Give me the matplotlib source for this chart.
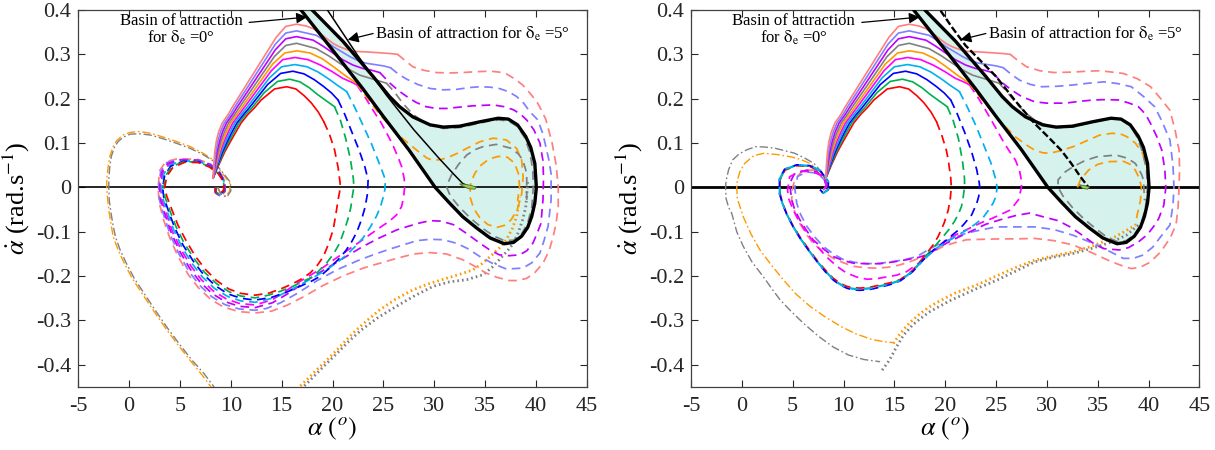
import numpy as np
import matplotlib
matplotlib.use('Agg')
import matplotlib.pyplot as plt

plt.rcParams['font.family'] = ['Liberation Serif', 'DejaVu Serif']
plt.rcParams['mathtext.fontset'] = 'stix'

# ---------------- data (alpha [deg], alpha_dot [rad/s]) ----------------
x_ticks = [-5, 0, 5, 10, 15, 20, 25, 30, 35, 40, 45]
y_ticks = [-0.4, -0.3, -0.2, -0.1, 0, 0.1, 0.2, 0.3, 0.4]
y_tick_labels = ['-0.4', '-0.3', '-0.2', '-0.1', '0', '0.1', '0.2', '0.3', '0.4']

# solid (shared by both panels)
red_solid = [(8.26,.021),(8.8,.05),(9.4,.08),(10.0,.105),(10.5,.125),(11.0,.145),(11.7,.165),(12.35,.18),(12.98,.197),(14.3,.222),(15.5,.227),(16.4,.222),(17.2,.207),(17.9,.191),(18.6,.17),(19.15,.148)]
green_solid = [(8.26,.021),(8.75,.05),(9.29,.08),(9.84,.105),(10.31,.125),(10.79,.145),(11.48,.165),(12.09,.18),(13.3,.214),(14.6,.239),(15.8,.244),(16.8,.238),(17.7,.225),(18.5,.21),(19.4,.195),(20.2,.182)]
blue_solid = [(8.26,.021),(8.69,.05),(9.18,.08),(9.68,.105),(10.12,.125),(10.59,.145),(11.27,.165),(11.83,.18),(13.62,.232),(14.9,.257),(16.1,.262),(17.2,.256),(18.2,.243),(19.1,.228),(19.9,.213),(20.55,.197)]
cyan_solid = [(8.26,.021),(8.64,.05),(9.07,.08),(9.53,.105),(9.93,.125),(10.38,.145),(11.05,.165),(11.58,.18),(13.8,.247),(15.0,.272),(16.3,.277),(17.5,.272),(18.6,.26),(19.6,.245),(20.5,.23),(21.4,.216)]
magenta_solid = [(8.26,.021),(8.59,.05),(8.96,.08),(9.37,.105),(9.75,.125),(10.18,.145),(10.83,.165),(11.32,.18),(13.98,.263),(15.1,.288),(16.3,.293),(17.6,.288),(18.8,.276),(19.9,.262),(21.0,.246),(22.0,.236),(22.4,.231)]
orange_solid = [(8.26,.021),(8.53,.05),(8.86,.08),(9.21,.105),(9.55,.125),(9.97,.145),(10.62,.165),(11.08,.18),(14.11,.278),(15.3,.303),(16.5,.308),(17.8,.303),(19.0,.29),(20.1,.272),(21.2,.253),(22.3,.236)]
gray_solid = [(8.26,.021),(8.48,.05),(8.75,.08),(9.05,.105),(9.37,.125),(9.77,.145),(10.4,.165),(10.83,.18),(14.28,.295),(15.4,.32),(16.46,.325),(18.4,.313),(19.6,.297),(20.7,.28),(21.7,.265),(22.7,.253),(24.3,.242),(25.3,.235)]
violet_solid = [(8.26,.021),(8.43,.05),(8.64,.08),(8.9,.105),(9.18,.125),(9.56,.145),(10.18,.165),(10.59,.18),(14.37,.31),(15.4,.335),(16.46,.34),(18.1,.332),(19.1,.318),(20.1,.302),(21.0,.288),(22.0,.276),(23.0,.268),(23.7,.265),(24.65,.259)]
lightblue_solid = [(8.26,.021),(8.37,.05),(8.53,.08),(8.74,.105),(8.99,.125),(9.36,.145),(9.97,.165),(10.35,.18),(14.38,.323),(15.4,.348),(16.46,.353),(18.4,.343),(19.3,.33),(20.1,.317),(20.9,.306),(21.7,.295),(22.5,.286),(23.3,.28),(25.0,.274),(25.7,.27)]
salmon_solid = [(8.26,.021),(8.32,.05),(8.42,.08),(8.58,.105),(8.8,.125),(9.15,.145),(9.75,.165),(10.12,.18),(14.45,.338),(15.4,.363),(16.46,.368),(17.4,.364),(18.1,.358),(18.8,.347),(19.4,.336),(20.1,.324),(20.7,.317),(21.4,.311),(22.0,.307),(23.7,.305),(25.6,.302),(26.4,.3)]

# dashed continuations, left panel (delta_e = 0)
red_dash_L = [(19.15,0.148),(19.7,0.12),(20.2,0.085),(20.55,0.045),(20.75,0.01),(20.7,-0.01),(20.55,-0.028),(20.3,-0.065),(20.06,-0.096),(19.6,-0.128),(19.1,-0.156),(18.5,-0.176),(17.8,-0.193),(16.9,-0.207),(16.1,-0.217),(15.0,-0.228),(13.8,-0.238),(12.4,-0.243),(11.0,-0.239),(9.8,-0.229),(8.6,-0.21),(7.5,-0.185),(6.5,-0.155),(5.6,-0.12),(4.8,-0.085),(4.2,-0.05),(3.7,-0.02),(3.5,0.0),(3.7,0.025),(4.3,0.045),(5.5,0.057),(6.8,0.056),(7.9,0.046),(8.8,0.03),(9.3,0.012),(9.3,-0.006),(8.9,-0.015),(8.5,-0.01),(8.5,0.0)]
green_dash_L = [(20.2,0.182),(20.8,0.15),(21.3,0.11),(21.75,0.065),(22.05,0.02),(22.1,0.0),(22.0,-0.013),(21.8,-0.045),(21.5,-0.073),(21.1,-0.1),(20.7,-0.126),(20.1,-0.15),(19.4,-0.171),(18.1,-0.201),(16.1,-0.223),(14.9,-0.234),(13.7,-0.243),(12.4,-0.249),(11.0,-0.245),(9.8,-0.235),(8.6,-0.217),(7.4,-0.191),(6.4,-0.161),(5.4,-0.125),(4.6,-0.088),(4.0,-0.052),(3.5,-0.02),(3.4,0.0),(3.6,0.027),(4.2,0.047),(5.4,0.058),(6.8,0.057),(7.9,0.047),(8.8,0.031),(9.3,0.012),(9.3,-0.007),(8.9,-0.016),(8.5,-0.01),(8.5,0.0)]
blue_dash_L = [(20.55,0.197),(21.2,0.165),(21.9,0.125),(22.6,0.085),(23.2,0.045),(23.5,0.017),(23.45,-0.013),(23.2,-0.045),(22.85,-0.073),(22.4,-0.1),(21.9,-0.122),(21.3,-0.143),(20.55,-0.163),(19.7,-0.182),(18.75,-0.201),(17.8,-0.213),(16.8,-0.223),(15.5,-0.236),(14.0,-0.248),(12.4,-0.254),(11.0,-0.25),(9.7,-0.24),(8.5,-0.222),(7.3,-0.196),(6.3,-0.166),(5.3,-0.13),(4.5,-0.092),(3.9,-0.055),(3.4,-0.022),(3.3,0.0),(3.5,0.028),(4.1,0.048),(5.3,0.059),(6.8,0.058),(7.9,0.048),(8.9,0.031),(9.35,0.012),(9.35,-0.007),(8.9,-0.017),(8.5,-0.01),(8.5,0.0)]
cyan_dash_L = [(21.4,0.216),(22.2,0.18),(23.0,0.14),(23.8,0.1),(24.5,0.06),(25.0,0.03),(25.2,0.017),(25.15,-0.005),(25.0,-0.021),(24.7,-0.045),(24.3,-0.066),(23.7,-0.09),(23.0,-0.114),(22.2,-0.134),(21.4,-0.152),(20.4,-0.17),(19.4,-0.186),(18.2,-0.202),(17.1,-0.216),(15.8,-0.232),(14.4,-0.248),(12.4,-0.259),(11.0,-0.256),(9.7,-0.246),(8.4,-0.228),(7.2,-0.202),(6.2,-0.172),(5.2,-0.135),(4.4,-0.097),(3.8,-0.058),(3.3,-0.024),(3.2,0.0),(3.4,0.03),(4.0,0.05),(5.2,0.06),(6.8,0.059),(7.9,0.049),(8.9,0.032),(9.35,0.012),(9.35,-0.008),(8.9,-0.017),(8.5,-0.01),(8.5,0.0)]
magenta_dash_L = [(22.4,0.231),(23.3,0.2),(24.1,0.17),(24.8,0.145),(25.5,0.115),(26.0,0.092),(26.5,0.065),(26.8,0.047),(27.05,0.02),(27.1,0.002),(27.0,-0.02),(26.8,-0.043),(26.3,-0.062),(25.6,-0.076),(24.7,-0.09),(23.7,-0.106),(22.6,-0.124),(21.4,-0.143),(20.2,-0.162),(19.1,-0.18),(17.9,-0.197),(16.8,-0.212),(15.5,-0.232),(14.1,-0.253),(12.4,-0.265),(10.9,-0.262),(9.6,-0.252),(8.3,-0.234),(7.1,-0.208),(6.1,-0.178),(5.1,-0.14),(4.3,-0.102),(3.7,-0.062),(3.2,-0.026),(3.1,0.0),(3.3,0.032),(3.9,0.052),(5.1,0.061),(6.8,0.06),(7.9,0.05),(8.9,0.032),(9.4,0.012),(9.4,-0.008),(8.95,-0.018),(8.5,-0.011),(8.5,0.0)]
violet_dash_L = [(24.65,0.259),(25.6,0.236),(26.5,0.218),(27.3,0.205),(28.2,0.192),(29.2,0.182),(30.2,0.178),(31.2,0.178),(32.5,0.181),(33.8,0.184),(35.8,0.186),(36.9,0.182),(37.8,0.175),(38.5,0.165),(39.1,0.152),(39.8,0.13),(40.4,0.1),(40.7,0.06),(40.75,0.02),(40.7,-0.028),(40.5,-0.081),(40.1,-0.105),(39.7,-0.126),(39.1,-0.143),(38.4,-0.152),(37.4,-0.154),(36.4,-0.152),(35.4,-0.14),(34.5,-0.126),(33.2,-0.104),(31.9,-0.084),(30.7,-0.076),(29.6,-0.075),(28.6,-0.08),(27.4,-0.088),(26.3,-0.096),(24.6,-0.114),(23.0,-0.133),(21.4,-0.155),(19.6,-0.18),(17.6,-0.208),(15.8,-0.237),(14.1,-0.26),(12.4,-0.271),(10.8,-0.268),(9.5,-0.258),(8.2,-0.24),(7.0,-0.214),(6.0,-0.184),(5.0,-0.145),(4.2,-0.106),(3.6,-0.066),(3.1,-0.028),(3.0,0.0),(3.2,0.034),(3.8,0.054),(5.0,0.062),(6.8,0.061),(8.0,0.051),(8.9,0.033),(9.4,0.012),(9.4,-0.008),(9.0,-0.019),(8.5,-0.012),(8.5,0.0)]
lightblue_dash_L = [(25.7,0.27),(26.5,0.255),(27.3,0.244),(28.4,0.232),(29.6,0.223),(30.9,0.22),(32.2,0.221),(33.4,0.225),(34.5,0.227),(35.5,0.226),(36.4,0.223),(37.3,0.216),(38.1,0.205),(38.8,0.19),(39.4,0.171),(40.2,0.152),(40.7,0.12),(41.0,0.09),(41.3,0.06),(41.5,0.03),(41.5,0.0),(41.5,-0.028),(41.2,-0.088),(40.8,-0.12),(40.4,-0.148),(39.6,-0.17),(38.7,-0.182),(37.1,-0.184),(35.8,-0.172),(34.5,-0.156),(33.3,-0.138),(32.2,-0.126),(30.9,-0.118),(29.6,-0.117),(28.3,-0.12),(26.9,-0.13),(25.5,-0.14),(24.0,-0.152),(22.5,-0.165),(20.5,-0.185),(18.5,-0.21),(16.6,-0.238),(14.9,-0.26),(13.5,-0.273),(12.4,-0.277),(10.8,-0.274),(9.4,-0.264),(8.1,-0.246),(6.9,-0.22),(5.9,-0.19),(4.9,-0.15),(4.1,-0.11),(3.5,-0.07),(3.0,-0.03),(2.9,0.0),(3.1,0.036),(3.7,0.056),(4.9,0.063),(6.8,0.062),(8.0,0.052),(8.9,0.034),(9.4,0.012),(9.4,-0.009),(9.0,-0.02),(8.5,-0.012),(8.5,0.0)]
salmon_dash_L = [(26.4,0.3),(27.2,0.285),(27.9,0.272),(29.0,0.264),(30.2,0.259),(31.5,0.258),(32.8,0.259),(34.2,0.261),(35.5,0.262),(36.4,0.26),(37.1,0.256),(37.9,0.245),(38.7,0.231),(39.4,0.213),(40.1,0.193),(40.6,0.172),(41.0,0.152),(41.6,0.1),(42.0,0.05),(42.2,0.0),(42.2,-0.043),(42.0,-0.08),(41.7,-0.111),(41.3,-0.143),(40.7,-0.171),(39.9,-0.192),(39.1,-0.205),(38.2,-0.21),(37.4,-0.21),(36.2,-0.203),(35.1,-0.193),(34.0,-0.178),(32.8,-0.163),(31.2,-0.15),(29.6,-0.147),(28.0,-0.15),(26.3,-0.16),(24.65,-0.171),(23.0,-0.182),(21.0,-0.2),(19.0,-0.222),(17.2,-0.246),(15.5,-0.266),(14.0,-0.279),(12.4,-0.283),(10.8,-0.28),(9.3,-0.27),(8.0,-0.252),(6.8,-0.226),(5.8,-0.196),(4.8,-0.155),(4.0,-0.114),(3.4,-0.074),(2.95,-0.034),(2.85,0.0),(3.0,0.038),(3.6,0.058),(4.8,0.065),(6.8,0.063),(8.0,0.053),(8.9,0.035),(9.45,0.013),(9.45,-0.009),(9.0,-0.021),(8.5,-0.013),(8.5,0.0)]
orange_dash_L = [(22.3,0.236),(23.0,0.215),(23.8,0.19),(24.8,0.16),(25.8,0.135),(26.9,0.11),(27.8,0.093),(28.6,0.078),(29.3,0.066),(29.9,0.061),(30.7,0.063),(31.5,0.069),(32.4,0.078),(33.2,0.088),(34.5,0.103),(35.8,0.111),(37.1,0.107),(38.1,0.088),(38.6,0.062),(38.75,0.024),(38.6,-0.015),(38.2,-0.048),(37.6,-0.072),(37.0,-0.085),(36.2,-0.09),(35.3,-0.084),(34.5,-0.069),(33.9,-0.048),(33.5,-0.02),(33.6,0.01),(34.0,0.032),(34.6,0.05),(35.4,0.064),(36.3,0.07),(37.2,0.068),(37.9,0.055),(38.3,0.03),(38.4,0.002),(38.2,-0.03)]
gray_dash_L = [(25.3,0.235),(26.1,0.215),(26.9,0.19),(27.9,0.165),(28.8,0.15),(29.6,0.142),(30.9,0.133),(32.5,0.135),(34.5,0.145),(35.5,0.15),(36.3,0.152),(37.3,0.15),(38.2,0.137),(38.9,0.112),(39.4,0.08),(39.7,0.04),(39.75,0.0),(39.6,-0.045),(39.2,-0.08),(38.6,-0.105),(37.8,-0.119),(36.9,-0.12),(35.9,-0.11),(34.8,-0.093),(33.6,-0.07),(32.5,-0.045),(31.6,-0.02),(31.2,0.002),(31.7,0.028),(32.4,0.052),(33.2,0.073),(34.0,0.085),(34.8,0.092),(36.1,0.097),(37.6,0.088),(38.3,0.075),(38.7,0.062),(39.0,0.04),(39.1,0.024),(39.1,-0.029)]
orange_dot_L = [(16.5,-0.455),(17.5,-0.433),(18.5,-0.41),(19.5,-0.388),(20.5,-0.365),(21.4,-0.343),(22.36,-0.321),(23.5,-0.298),(24.65,-0.276),(26.2,-0.252),(27.9,-0.231),(29.5,-0.217),(31.2,-0.205),(32.5,-0.196),(33.8,-0.186),(34.7,-0.172),(35.5,-0.156),(36.4,-0.137),(37.1,-0.118),(37.7,-0.092),(38.1,-0.066),(38.3,-0.04),(38.4,-0.021)]
gray_dot_L = [(16.9,-0.455),(18.0,-0.43),(19.2,-0.402),(20.4,-0.375),(21.6,-0.347),(22.85,-0.321),(24.5,-0.293),(26.3,-0.268),(28.1,-0.244),(29.9,-0.223),(31.5,-0.213),(33.2,-0.208),(34.8,-0.197),(35.7,-0.18),(36.4,-0.163),(37.2,-0.143),(37.8,-0.126),(38.3,-0.1),(38.7,-0.073),(39.0,-0.045),(39.1,-0.021),(39.2,0.017)]
orange_dashdot_L = [(8.7,0.0),(9.0,-0.015),(9.5,-0.02),(9.9,-0.008),(9.9,0.01),(9.5,0.022),(8.9,0.04),(8.26,0.062),(7.2,0.078),(6.0,0.092),(4.6,0.104),(3.3,0.114),(2.1,0.122),(1.05,0.126),(0.1,0.124),(-0.6,0.118),(-1.2,0.106),(-1.57,0.092),(-1.9,0.07),(-2.06,0.047),(-2.2,0.02),(-2.2,-0.002),(-2.1,-0.03),(-2.0,-0.051),(-1.8,-0.08),(-1.57,-0.111),(-1.1,-0.14),(-0.5,-0.17),(0.3,-0.205),(1.3,-0.24),(2.4,-0.278),(3.6,-0.318),(4.8,-0.355),(6.0,-0.39),(7.0,-0.418),(7.9,-0.445),(8.1,-0.452)]
gray_dashdot_L = [(8.7,0.0),(9.1,-0.017),(9.6,-0.022),(10.0,-0.008),(9.95,0.012),(9.5,0.025),(8.9,0.042),(8.26,0.06),(7.2,0.075),(6.0,0.088),(4.6,0.1),(3.3,0.11),(2.1,0.118),(1.05,0.121),(0.1,0.12),(-0.6,0.113),(-1.1,0.103),(-1.45,0.09),(-1.75,0.07),(-1.9,0.047),(-2.0,0.02),(-2.0,-0.002),(-1.95,-0.03),(-1.8,-0.055),(-1.6,-0.083),(-1.35,-0.111),(-0.9,-0.14),(-0.3,-0.17),(0.5,-0.205),(1.5,-0.24),(2.6,-0.278),(3.8,-0.318),(5.0,-0.355),(6.2,-0.39),(7.3,-0.418),(8.2,-0.445),(8.4,-0.452)]
basin5_solid_L = [(19.3,0.42),(19.5,0.4),(22.4,0.3),(25.3,0.208),(28.0,0.13),(30.5,0.065),(32.0,0.028),(32.8,0.009),(33.4,0.002)]

# dashed continuations, right panel (delta_e = 5)
red_dash_R = [(19.15,0.148),(19.7,0.115),(20.1,0.085),(20.3,0.062),(20.55,0.02),(20.6,0.0),(20.5,-0.025),(20.3,-0.051),(19.9,-0.08),(19.3,-0.111),(18.8,-0.13),(18.2,-0.148),(17.5,-0.168),(16.85,-0.186),(16.2,-0.198),(15.55,-0.208),(14.6,-0.215),(13.6,-0.22),(12.6,-0.225),(11.6,-0.227),(10.9,-0.226),(10.3,-0.223),(9.6,-0.215),(9.0,-0.205),(8.2,-0.186),(7.35,-0.163),(6.5,-0.137),(5.7,-0.111),(5.0,-0.085),(4.4,-0.058),(4.0,-0.035),(3.75,-0.013),(3.75,0.017),(4.25,0.039),(5.4,0.049),(6.7,0.047),(7.7,0.036),(8.5,0.013),(8.5,-0.005),(8.0,-0.013),(7.7,-0.005)]
green_dash_R = [(20.2,0.182),(20.8,0.15),(21.3,0.11),(21.7,0.06),(21.9,0.02),(21.9,0.0),(21.75,-0.025),(21.6,-0.043),(21.3,-0.06),(20.9,-0.077),(20.4,-0.094),(19.8,-0.111),(19.3,-0.124),(18.8,-0.137),(18.2,-0.152),(17.5,-0.17),(16.85,-0.187),(16.2,-0.199),(15.55,-0.209),(14.6,-0.217),(13.6,-0.222),(12.6,-0.227),(11.6,-0.229),(10.9,-0.228),(10.3,-0.225),(9.6,-0.217),(9.0,-0.207),(8.2,-0.188),(7.35,-0.165),(6.5,-0.139),(5.7,-0.113),(5.0,-0.086),(4.4,-0.059),(4.0,-0.036),(3.75,-0.014),(3.75,0.018),(4.25,0.04),(5.4,0.05),(6.7,0.048),(7.7,0.037),(8.5,0.014),(8.5,-0.005),(8.0,-0.013),(7.7,-0.005)]
blue_dash_R = [(20.55,0.197),(21.2,0.165),(21.9,0.125),(22.6,0.08),(23.1,0.04),(23.35,0.01),(23.4,0.0),(23.3,-0.02),(23.1,-0.036),(22.6,-0.062),(21.8,-0.084),(21.2,-0.098),(20.5,-0.111),(19.7,-0.127),(18.8,-0.142),(18.2,-0.155),(17.5,-0.172),(16.85,-0.189),(16.2,-0.201),(15.55,-0.211),(14.6,-0.219),(13.6,-0.225),(12.6,-0.23),(11.6,-0.232),(10.9,-0.231),(10.3,-0.227),(9.6,-0.219),(9.0,-0.209),(8.2,-0.19),(7.35,-0.166),(6.5,-0.14),(5.7,-0.114),(5.0,-0.087),(4.4,-0.06),(4.0,-0.037),(3.7,-0.014),(3.7,0.019),(4.2,0.041),(5.4,0.051),(6.7,0.049),(7.7,0.038),(8.5,0.014),(8.5,-0.005),(8.0,-0.013),(7.7,-0.005)]
cyan_dash_R = [(21.4,0.216),(22.2,0.18),(23.0,0.14),(23.8,0.095),(24.5,0.055),(24.95,0.02),(25.1,0.0),(25.0,-0.02),(24.7,-0.036),(24.2,-0.053),(23.7,-0.069),(23.0,-0.082),(22.4,-0.092),(21.6,-0.103),(20.8,-0.114),(20.0,-0.125),(19.2,-0.136),(18.5,-0.15),(17.7,-0.168),(16.9,-0.186),(16.2,-0.2),(15.55,-0.21),(14.6,-0.218),(13.6,-0.223),(12.6,-0.228),(11.6,-0.23),(10.9,-0.229),(10.3,-0.226),(9.6,-0.218),(9.0,-0.208),(8.2,-0.189),(7.35,-0.166),(6.5,-0.14),(5.7,-0.114),(5.0,-0.087),(4.4,-0.06),(4.0,-0.037),(3.7,-0.014),(3.7,0.019),(4.2,0.041),(5.4,0.051),(6.7,0.049),(7.7,0.038),(8.5,0.014),(8.5,-0.005),(8.0,-0.013),(7.7,-0.005)]
magenta_dash_R = [(22.4,0.231),(23.3,0.2),(24.2,0.165),(25.0,0.133),(25.8,0.1),(26.5,0.075),(26.9,0.062),(27.3,0.039),(27.5,0.015),(27.5,0.0),(27.2,-0.028),(26.4,-0.051),(24.7,-0.069),(23.5,-0.08),(22.4,-0.092),(21.2,-0.105),(20.1,-0.118),(19.1,-0.137),(18.2,-0.156),(17.2,-0.174),(16.2,-0.19),(15.2,-0.198),(14.2,-0.202),(13.2,-0.206),(12.3,-0.207),(11.3,-0.202),(10.3,-0.193),(9.3,-0.177),(8.3,-0.156),(7.3,-0.13),(6.4,-0.103),(5.6,-0.075),(5.05,-0.051),(4.6,-0.025),(4.5,-0.006),(4.7,0.024),(5.7,0.036),(6.9,0.036),(7.8,0.027),(8.3,0.01),(8.2,-0.006),(7.8,-0.008)]
violet_dash_R = [(24.65,0.259),(25.6,0.236),(26.5,0.22),(27.5,0.205),(28.8,0.193),(30.0,0.19),(31.8,0.19),(33.2,0.194),(34.5,0.197),(35.8,0.198),(37.1,0.197),(38.1,0.19),(39.0,0.182),(39.7,0.165),(40.2,0.144),(40.8,0.115),(41.3,0.084),(41.6,0.04),(41.7,0.0),(41.5,-0.04),(41.0,-0.07),(40.6,-0.085),(39.9,-0.106),(39.0,-0.123),(38.0,-0.136),(37.1,-0.141),(35.6,-0.138),(34.5,-0.125),(33.5,-0.108),(32.2,-0.088),(31.1,-0.075),(29.6,-0.066),(28.3,-0.058),(27.0,-0.063),(25.4,-0.073),(24.0,-0.083),(22.8,-0.096),(21.5,-0.11),(20.1,-0.126),(19.2,-0.138),(18.2,-0.152),(17.2,-0.159),(16.2,-0.163),(14.9,-0.168),(13.6,-0.172),(12.3,-0.172),(11.0,-0.171),(10.0,-0.165),(9.0,-0.156),(8.0,-0.138),(7.0,-0.118),(6.3,-0.095),(5.7,-0.073),(5.2,-0.05),(4.9,-0.028),(4.7,0.009),(5.2,0.032),(6.4,0.039),(7.4,0.035),(8.1,0.02),(8.3,0.003),(8.0,-0.006)]
lightblue_dash_R = [(25.7,0.27),(26.5,0.255),(27.3,0.242),(28.4,0.232),(29.5,0.227),(31.0,0.228),(32.6,0.231),(34.1,0.235),(35.6,0.238),(37.0,0.234),(38.3,0.227),(39.5,0.205),(40.6,0.182),(41.3,0.15),(42.1,0.107),(42.4,0.05),(42.5,0.0),(42.4,-0.04),(42.1,-0.085),(41.3,-0.108),(40.4,-0.135),(39.4,-0.153),(38.5,-0.16),(37.5,-0.16),(36.5,-0.148),(35.6,-0.138),(34.1,-0.122),(32.6,-0.108),(30.7,-0.095),(28.8,-0.089),(27.0,-0.089),(25.0,-0.089),(23.5,-0.096),(22.1,-0.103),(20.8,-0.114),(19.5,-0.126),(18.3,-0.141),(17.2,-0.156),(16.0,-0.163),(14.9,-0.167),(13.6,-0.171),(12.3,-0.172),(11.1,-0.169),(10.0,-0.163),(9.0,-0.15),(8.0,-0.133),(7.1,-0.11),(6.4,-0.088),(5.8,-0.062),(5.4,-0.036),(5.2,0.0),(5.5,0.025),(6.4,0.035),(7.4,0.032),(8.1,0.018),(8.3,0.002),(8.0,-0.006)]
salmon_dash_R = [(26.4,0.3),(27.2,0.285),(28.0,0.272),(29.3,0.263),(30.7,0.259),(32.5,0.26),(34.0,0.262),(35.2,0.263),(36.4,0.26),(37.5,0.257),(38.9,0.245),(40.2,0.227),(41.2,0.2),(42.1,0.174),(42.6,0.13),(43.0,0.084),(43.05,0.04),(43.0,0.0),(42.9,-0.045),(42.7,-0.085),(42.1,-0.115),(41.2,-0.145),(40.2,-0.168),(39.2,-0.18),(38.3,-0.183),(37.2,-0.175),(36.0,-0.164),(34.3,-0.146),(32.6,-0.13),(30.7,-0.12),(28.8,-0.115),(27.0,-0.116),(25.4,-0.116),(23.7,-0.117),(22.1,-0.118),(20.9,-0.125),(19.8,-0.133),(18.8,-0.145),(17.8,-0.156),(16.6,-0.167),(15.5,-0.175),(14.4,-0.18),(13.25,-0.182),(12.1,-0.181),(11.0,-0.178),(10.0,-0.17),(9.0,-0.16),(8.0,-0.145),(7.0,-0.126),(6.3,-0.104),(5.7,-0.081),(5.2,-0.055),(4.9,-0.028),(5.0,0.0),(5.2,0.017),(6.0,0.039),(7.4,0.039),(8.1,0.025),(8.4,0.005),(8.0,-0.006)]
orange_dash_R = [(22.3,0.236),(23.2,0.21),(24.1,0.185),(25.0,0.159),(26.0,0.135),(26.9,0.114),(27.9,0.097),(28.8,0.084),(29.6,0.078),(30.3,0.077),(31.4,0.083),(32.6,0.092),(33.9,0.105),(35.2,0.118),(36.4,0.122),(37.2,0.121),(37.9,0.114),(38.7,0.1),(39.4,0.077),(39.8,0.05),(40.0,0.024),(40.0,0.0),(39.9,-0.02)]
orange_loop_R = [(33.0,0.0),(33.3,0.017),(34.1,0.039),(35.0,0.052),(36.0,0.058),(37.5,0.059),(38.2,0.052),(38.7,0.039),(39.1,0.02),(39.3,0.0),(39.2,-0.03),(38.9,-0.06),(38.7,-0.085)]
gray_dash_R = [(25.3,0.235),(26.1,0.215),(26.9,0.192),(27.9,0.168),(28.8,0.152),(29.6,0.143),(30.9,0.135),(32.5,0.136),(34.5,0.147),(35.5,0.153),(36.3,0.155),(37.3,0.153),(38.2,0.14),(38.9,0.112),(39.4,0.08),(39.8,0.04),(39.9,0.0),(39.7,-0.045),(39.3,-0.08),(38.6,-0.107),(37.8,-0.12),(36.9,-0.122),(35.9,-0.112),(34.8,-0.093),(33.6,-0.07),(32.5,-0.045),(31.6,-0.02),(31.1,0.0),(31.1,0.017),(31.8,0.035),(32.6,0.047),(33.7,0.06),(34.9,0.069),(36.8,0.073),(37.9,0.066),(38.7,0.054),(39.3,0.03),(39.5,0.017),(39.6,-0.029)]
orange_dot_R = [(14.9,-0.352),(15.4,-0.335),(16.0,-0.318),(16.6,-0.303),(17.5,-0.285),(18.4,-0.27),(19.3,-0.258),(21.0,-0.238),(23.1,-0.22),(25.0,-0.2),(27.0,-0.18),(28.8,-0.164),(30.7,-0.154),(32.6,-0.145),(34.5,-0.132),(36.4,-0.115),(37.6,-0.1),(38.7,-0.085)]
gray_dot_R = [(13.8,-0.412),(14.5,-0.39),(15.2,-0.36),(15.9,-0.333),(16.8,-0.31),(17.6,-0.295),(18.5,-0.28),(20.5,-0.255),(23.1,-0.228),(25.0,-0.21),(27.0,-0.188),(28.8,-0.168),(30.7,-0.157),(32.6,-0.149),(34.5,-0.137),(36.4,-0.123),(37.8,-0.108),(39.0,-0.085)]
gray_dashdot_R = [(8.4,0.0),(8.25,0.024),(7.1,0.054),(6.2,0.066),(5.2,0.077),(4.2,0.083),(3.3,0.088),(2.3,0.091),(1.4,0.092),(0.5,0.085),(-0.3,0.075),(-0.9,0.062),(-1.3,0.04),(-1.55,0.015),(-1.6,0.0),(-1.55,-0.025),(-1.3,-0.045),(-1.0,-0.058),(-0.5,-0.1),(0.14,-0.133),(1.0,-0.168),(2.1,-0.201),(3.0,-0.23),(3.75,-0.253),(4.7,-0.276),(6.0,-0.305),(7.5,-0.335),(9.0,-0.36),(10.5,-0.378),(12.0,-0.388),(13.6,-0.393)]
orange_dashdot_R = [(8.3,0.0),(8.25,0.015),(7.9,0.032),(6.7,0.054),(5.8,0.063),(4.8,0.069),(3.5,0.074),(2.2,0.077),(1.2,0.072),(0.27,0.054),(-0.2,0.035),(-0.45,0.015),(-0.5,0.0),(-0.45,-0.025),(0.14,-0.066),(0.9,-0.105),(1.78,-0.141),(2.9,-0.175),(4.07,-0.208),(5.3,-0.24),(6.7,-0.268),(8.2,-0.292),(9.7,-0.313),(11.2,-0.33),(12.8,-0.343),(14.0,-0.348),(14.9,-0.35)]
basin5_dashed_R = [(19.3,0.42),(19.5,0.4),(20.7,0.36),(22.0,0.32),(23.5,0.285),(25.0,0.25),(26.9,0.195),(28.8,0.144),(30.2,0.112),(31.4,0.084),(32.4,0.054),(33.3,0.024),(34.1,0.0)]

# basin of attraction for delta_e = 0 (closed boundary), shared
basin0 = [(16.6,0.41),(16.9,0.4),(20.0,0.31),(23.0,0.222),(25.0,0.16),(27.5,0.085),(30.1,0.0),(31.5,-0.035),(32.8,-0.066),(34.2,-0.092),(35.5,-0.114),(36.9,-0.127),(37.8,-0.124),(38.6,-0.11),(39.2,-0.09),(39.6,-0.065),(39.9,-0.035),(40.05,0.0),(39.9,0.054),(39.5,0.09),(39.0,0.115),(38.2,0.141),(37.3,0.154),(36.3,0.156),(34.5,0.148),(32.5,0.138),(30.9,0.136),(29.6,0.141),(27.9,0.159),(26.6,0.182),(25.6,0.205),(24.0,0.25),(21.0,0.33),(18.0,0.4),(17.7,0.41)]
blob_L = [(32.5,0.008),(33.1,0.007),(33.7,0.004),(34.15,0.001),(34.0,-0.004),(33.4,-0.003),(32.8,0.003)]
blob_R = [(33.2,0.006),(33.7,0.004),(34.2,0.001),(34.0,-0.004),(33.5,-0.002)]

# ---------------- styles ----------------
SERIF = ['Liberation Serif', 'DejaVu Serif']
C = {'red': '#ff0000', 'green': '#00b050', 'blue': '#0000ff', 'cyan': '#00b0f0',
     'magenta': '#ff00ff', 'orange': '#ff9900', 'gray': '#808080', 'violet': '#c000ff',
     'lightblue': '#7f7fff', 'salmon': '#ff7f7f'}
DASH = (0, (5, 3.2))


def xy(pts):
    a = np.asarray(pts, dtype=float)
    return a[:, 0], a[:, 1]


solids = [('red', red_solid), ('green', green_solid), ('blue', blue_solid), ('cyan', cyan_solid),
          ('magenta', magenta_solid), ('orange', orange_solid), ('gray', gray_solid),
          ('violet', violet_solid), ('lightblue', lightblue_solid), ('salmon', salmon_solid)]
dashes_L = [('salmon', salmon_dash_L), ('lightblue', lightblue_dash_L), ('violet', violet_dash_L),
            ('magenta', magenta_dash_L), ('cyan', cyan_dash_L), ('blue', blue_dash_L),
            ('green', green_dash_L), ('red', red_dash_L), ('orange', orange_dash_L), ('gray', gray_dash_L)]
dashes_R = [('salmon', salmon_dash_R), ('lightblue', lightblue_dash_R), ('violet', violet_dash_R),
            ('magenta', magenta_dash_R), ('red', red_dash_R), ('green', green_dash_R),
            ('blue', blue_dash_R), ('cyan', cyan_dash_R), ('orange', orange_dash_R),
            ('orange', orange_loop_R), ('gray', gray_dash_R)]

fig = plt.figure(figsize=(12.15, 4.5), dpi=100)
axL = fig.add_axes([78.3 / 1215, 63 / 450, 508.4 / 1215, 377 / 450])
axR = fig.add_axes([691 / 1215, 63 / 450, 508.4 / 1215, 377 / 450])


def panel(ax, dashes, dashdots, dots, basin5, basin5_style, blob, zero_lw):
    bx, by = xy(basin0)
    ax.fill(bx, by, color='#d5f2ec', zorder=1, lw=0)
    ax.axhline(0, color='k', lw=zero_lw, zorder=2)
    for col, pts in dashdots:
        x, y = xy(pts)
        ax.plot(x, y, color=C[col], lw=1.0, ls=(0, (6, 2, 1.2, 2)), zorder=3)
    for col, pts in dots:
        x, y = xy(pts)
        ax.plot(x, y, color=C[col], lw=2.0, ls=(0, (0.6, 1.1)), zorder=3)
    for col, pts in dashes:
        x, y = xy(pts)
        ax.plot(x, y, color=C[col], lw=1.25, ls=DASH, zorder=4)
    for col, pts in solids:
        x, y = xy(pts)
        ax.plot(x, y, color=C[col], lw=1.2, zorder=5, solid_joinstyle='round')
    ax.plot(bx, by, color='k', lw=2.4, zorder=6, solid_joinstyle='round')
    x, y = xy(basin5)
    ax.plot(x, y, color='k', zorder=6, **basin5_style)
    x, y = xy(blob)
    ax.fill(x, y, facecolor='#9ccc5a', edgecolor='#4f6b2a', lw=0.6, zorder=7)

    ax.set_xlim(-5, 45)
    ax.set_ylim(-0.45, 0.4)
    ax.set_xticks(x_ticks)
    ax.set_xticklabels([str(t) for t in x_ticks], fontfamily=SERIF)
    ax.set_yticks(y_ticks)
    ax.set_yticklabels(y_tick_labels, fontfamily=SERIF)
    ax.tick_params(direction='in', top=True, right=True, labelsize=16, length=5,
                   width=0.8, colors='#262626')
    ax.tick_params(axis='x', pad=7)
    ax.tick_params(axis='y', pad=5)
    for s in ax.spines.values():
        s.set_color('#404040')
        s.set_linewidth(0.9)
    ax.set_xlabel(r'$\alpha\ \left(^{o}\right)$', fontsize=19, labelpad=0)
    ax.set_ylabel(r'$\dot{\alpha}$ (rad.s$^{-1}$)', fontsize=19, labelpad=3)

    ax.text(5.1, 0.355, 'Basin of attraction\nfor $\\mathrm{\\delta_e}$ =0°', ha='center',
            va='center', fontsize=12, linespacing=0.95, zorder=9)
    ax.annotate('', xy=(17.5, 0.384), xytext=(11.8, 0.372),
                arrowprops=dict(arrowstyle='-|>', color='k', lw=0.9, mutation_scale=16,
                                shrinkA=0, shrinkB=0), zorder=9)
    ax.text(24.2, 0.347, 'Basin of attraction for $\\mathrm{\\delta_e}$ =5°', ha='left',
            va='center', fontsize=12, zorder=9)
    ax.annotate('', xy=(21.5, 0.333), xytext=(24.0, 0.347),
                arrowprops=dict(arrowstyle='-|>', color='k', lw=0.9, mutation_scale=16,
                                shrinkA=0, shrinkB=0), zorder=9)


panel(axL, dashes_L,
      [('orange', orange_dashdot_L), ('gray', gray_dashdot_L)],
      [('orange', orange_dot_L), ('gray', gray_dot_L)],
      basin5_solid_L, dict(lw=1.1), blob_L, 1.2)
panel(axR, dashes_R,
      [('orange', orange_dashdot_R), ('gray', gray_dashdot_R)],
      [('orange', orange_dot_R), ('gray', gray_dot_R)],
      basin5_dashed_R, dict(lw=1.7, ls=(0, (3, 1.2))), blob_R, 2.0)

fig.savefig('out.png', dpi=100)
